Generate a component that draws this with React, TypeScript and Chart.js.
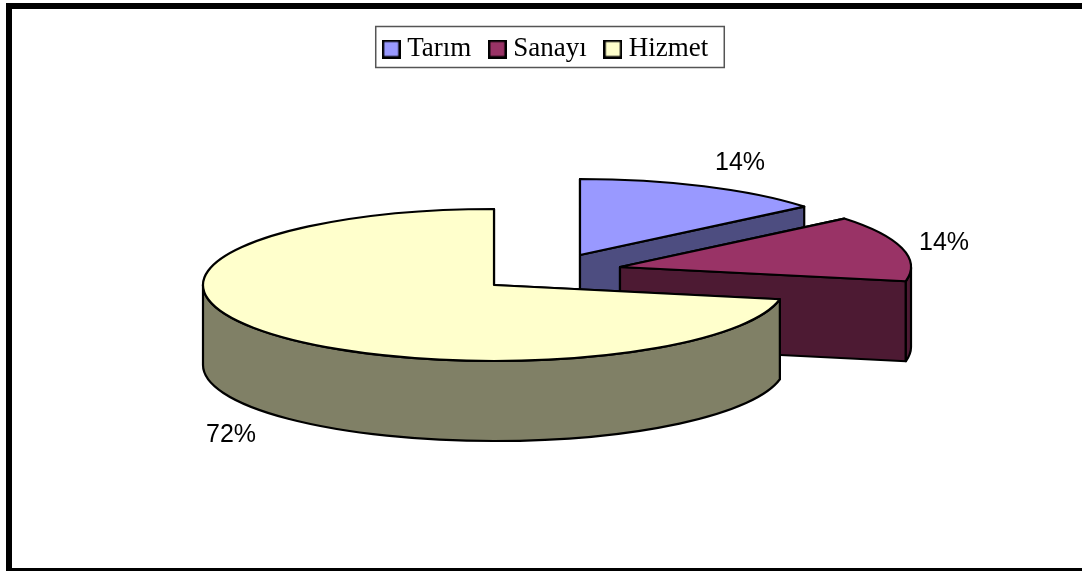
import React, { useEffect, useRef } from "react";
import { Chart, registerables } from "chart.js";

Chart.register(...registerables);

const categories = ["Tarım", "Sanayı", "Hizmet"];
const shares = [14, 14, 72];
const topColors = ["#9999FF", "#993366", "#FFFFCC"];
const wallColors = ["#4D4D80", "#4D1A33", "#808066"];

const PIE = { cx: 494, cy: 285, rx: 291, ry: 76, depth: 80 };
const EXPLODE = [[86, -30], [126, -18], [0, 0]];
const LABEL_POS = [[740, 163], [944, 243], [231, 435]];

function swatch(color: string) {
  const c = document.createElement("canvas");
  c.width = 19;
  c.height = 19;
  const g = c.getContext("2d")!;
  g.fillStyle = color;
  g.fillRect(0, 0, 19, 19);
  g.strokeStyle = "#000";
  g.lineWidth = 2.5;
  g.strokeRect(1.25, 1.25, 16.5, 16.5);
  return c;
}

const framePlugin = {
  id: "frame",
  beforeDraw(chart: any) {
    const { ctx, width, height } = chart;
    ctx.save();
    ctx.fillStyle = "#fff";
    ctx.fillRect(0, 0, width, height);
    ctx.fillStyle = "#000";
    ctx.fillRect(6, 3, width - 6, 6);
    ctx.fillRect(6, 3, 6, height - 3);
    ctx.fillRect(6, 568, width - 6, 3);
    ctx.restore();
  },
};

const pie3dPlugin = {
  id: "pie3d",
  beforeDatasetsDraw(chart: any) {
    const { ctx } = chart;
    const arcs = chart.getDatasetMeta(0).data;
    const { rx, ry, depth } = PIE;
    ctx.save();
    ctx.lineWidth = 2.2;
    ctx.strokeStyle = "#000";
    ctx.lineJoin = "round";
    arcs.forEach((arc: any, i: number) => {
      const cx = PIE.cx + EXPLODE[i][0];
      const cy = PIE.cy + EXPLODE[i][1];
      const a0 = arc.startAngle;
      const a1 = arc.endAngle;
      const paint = (fill: string) => {
        ctx.fillStyle = fill;
        ctx.fill();
        ctx.stroke();
      };
      // radial faces
      for (const a of [a0, a1]) {
        const px = cx + rx * Math.cos(a);
        const py = cy + ry * Math.sin(a);
        ctx.beginPath();
        ctx.moveTo(cx, cy);
        ctx.lineTo(px, py);
        ctx.lineTo(px, py + depth);
        ctx.lineTo(cx, cy + depth);
        ctx.closePath();
        paint(wallColors[i]);
      }
      // outer wall, only the part that faces the viewer
      const w0 = Math.max(a0, 0);
      const w1 = Math.min(a1, Math.PI);
      if (w1 > w0) {
        ctx.beginPath();
        ctx.ellipse(cx, cy, rx, ry, 0, w0, w1);
        ctx.ellipse(cx, cy + depth, rx, ry, 0, w1, w0, true);
        ctx.closePath();
        paint(wallColors[i]);
      }
      // top
      ctx.beginPath();
      ctx.moveTo(cx, cy);
      ctx.ellipse(cx, cy, rx, ry, 0, a0, a1);
      ctx.closePath();
      paint(arc.options.backgroundColor);
    });
    ctx.restore();
    return false;
  },
  afterDraw(chart: any) {
    const { ctx } = chart;
    const values = chart.data.datasets[0].data;
    const total = values.reduce((s: number, v: number) => s + v, 0);
    ctx.save();
    ctx.fillStyle = "#000";
    ctx.font = '25px "Liberation Sans"';
    ctx.textAlign = "center";
    ctx.textBaseline = "middle";
    values.forEach((v: number, i: number) => {
      ctx.fillText(`${Math.round((v / total) * 100)}%`, LABEL_POS[i][0], LABEL_POS[i][1]);
    });
    const boxes = chart.legend.legendHitBoxes;
    if (boxes.length) {
      const last = boxes[boxes.length - 1];
      const left = boxes[0].left - 13;
      const right = last.left + last.width + 16;
      const top = boxes[0].top - 9;
      ctx.strokeStyle = "#555";
      ctx.lineWidth = 1.5;
      ctx.strokeRect(left, top, right - left, 41);
    }
    ctx.restore();
  },
};

export default function App() {
  const ref = useRef<HTMLCanvasElement>(null);
  useEffect(() => {
    document.body.style.margin = "0";
    const chart = new Chart(ref.current!, {
      type: "pie",
      data: {
        labels: categories,
        datasets: [{ data: shares, backgroundColor: topColors, borderWidth: 0, pointStyle: topColors.map(swatch) as any }],
      },
      options: {
        responsive: false,
        animation: false,
        layout: { padding: { top: 12, left: 15 } },
        plugins: {
          legend: {
            position: "top",
            labels: {
              usePointStyle: true,
              boxWidth: 5,
              boxHeight: 19,
              padding: 23.5,
              color: "#000",
              font: { family: '"Liberation Serif"', size: 27 },
              generateLabels: (c: any) =>
                c.data.labels.map((text: string, i: number) => ({
                  text,
                  pointStyle: c.data.datasets[0].pointStyle[i],
                  fontColor: "#000",
                  fillStyle: topColors[i],
                  strokeStyle: "#000",
                  lineWidth: 0,
                  index: i,
                })),
            },
          },
          tooltip: { enabled: false },
        },
      },
      plugins: [framePlugin, pie3dPlugin],
    } as any);
    return () => chart.destroy();
  }, []);
  return (
    <div style={{ width: 1082, height: 571 }}>
      <canvas ref={ref} width={1082} height={571} style={{ display: "block" }} />
    </div>
  );
}
